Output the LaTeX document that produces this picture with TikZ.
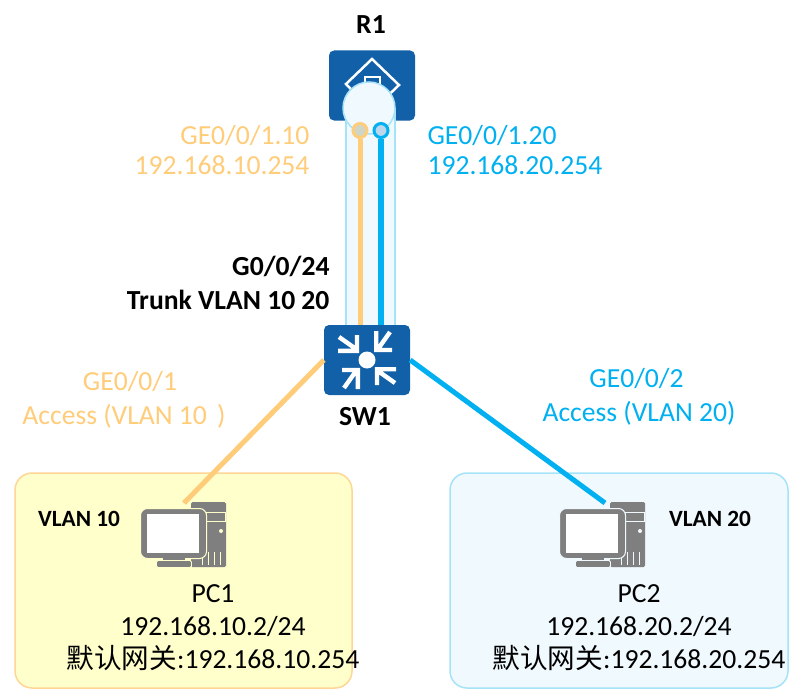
\documentclass[tikz,border=0pt]{standalone}
\usepackage{fontspec}
\setmainfont{Carlito}
\newfontfamily\cjk{Noto Sans CJK SC}
\definecolor{huawei}{HTML}{1160A8}
\definecolor{vorange}{HTML}{FFCC7A}
\definecolor{vblue}{HTML}{00B0F0}
\definecolor{tubeedge}{HTML}{A6E3F8}
\definecolor{tubefill}{HTML}{F0F9FE}
\definecolor{pcgray}{HTML}{7F7F7F}
\definecolor{paleyellow}{HTML}{FFFFCC}
\definecolor{portblue}{HTML}{BCD6EC}
\definecolor{portorange}{HTML}{CFD6C6}
\newcommand{\drawpc}[3]{% x, y, background
  \begin{scope}[shift={(#1,#2)}]
    \fill[pcgray, rounded corners=1.5] (191,502) rectangle (226,567);
    \draw[#3, line width=1] (206,512) rectangle (225,521);
    \fill[#3] (221,531) circle (2);
    \foreach \vx in {202,208,214,220}
      \draw[#3, line width=1] (\vx,552) -- (\vx,565);
    \fill[pcgray, draw=#3, line width=1, rounded corners=7] (140.5,508.5) rectangle (206.5,558.5);
    \fill[white] (147,514) rectangle (199,553);
    \fill[pcgray] (163,558) rectangle (185,562);
    \fill[pcgray, draw=#3, line width=.8, rounded corners=1.5] (156.5,560.5) rectangle (191.5,567.5);
  \end{scope}}
\begin{document}
\begin{tikzpicture}[x=1pt, y=-1pt,
    lbl/.style = {font=\fontsize{27.6}{34}\selectfont, align=center},
    tight/.style = {font=\fontsize{27.6}{30}\selectfont},
    gate/.style = {font=\fontsize{27.6}{33}\selectfont, align=center},
    bold/.style = {font=\fontsize{27.6}{34}\selectfont\bfseries, align=right},
    small/.style = {font=\fontsize{23.3}{25}\selectfont\bfseries},
    device/.style = {fill=huawei, rounded corners=5, minimum width=86, minimum height=70, inner sep=0},
    area/.style = {rounded corners=17, line width=1.5},
    port/.style = {circle, line width=3, minimum size=14, inner sep=0},
    link/.style = {line width=5}]
  \useasboundingbox (0,0) rectangle (803,693);

  \draw[area, draw=vorange!80, fill=paleyellow] (15,473) rectangle (352,688);
  \draw[area, draw=tubeedge, fill=tubefill] (450,473) rectangle (788,688);

  \node[device] (R1) at (372,85.5) {};
  \draw[white, line width=2.5, line join=miter] (346,84) -- (372,59) -- (399,85) -- (372,111) -- cycle;
  \draw[white, line width=2.5] (365,84) -- (365,77) -- (380,77) -- (380,84);
  \draw[tubeedge, fill=tubefill, line width=2] (345.5,108) -- (345.5,326) -- (394.5,326) -- (394.5,108);
  \node[circle, draw=tubeedge, fill=tubefill, line width=1.5, minimum size=52, inner sep=0] (bubble) at (369,108) {};

  \node[port, draw=vorange, fill=portorange] (p10) at (360,130.5) {};
  \node[port, draw=vblue, fill=portblue] (p20) at (381,130.5) {};

  \node[device] (SW1) at (367,360) {};
  \draw[link, vorange] (p10) -- (p10 |- SW1.north);
  \draw[link, vblue, line width=6] (p20) -- (p20 |- SW1.north);
  \node[circle, fill=white, minimum size=17, inner sep=0] (hub) at (SW1) {};
  \foreach \ang in {0,90,180,270}
    \draw[white, line width=4.4, rotate around={\ang:(SW1)}, shift={(SW1)}, line join=miter]
      (-29,-9.2) -- (-10,-9.2) -- (-10,-25) (-11,-11) -- (-28,-23);

  \drawpc{0}{0}{paleyellow}
  \drawpc{419}{0}{tubefill}
  \coordinate (pc1) at (184,503);
  \coordinate (pc2) at (605,503);
  \draw[link, vorange] (SW1.west) -- (pc1);
  \draw[link, vblue] (SW1.east) -- (pc2);

  \node[bold] (r1name) at (371,25) {R1};
  \node[bold] (swname) at (365,417) {SW1};
  \node[bold, anchor=east] (trunk) at (333,283) {G0/0/24\\Trunk VLAN 10 20};
  \node[tight, vorange, align=right, anchor=east] (ge10) at (313,150) {GE0/0/1.10\\192.168.10.254};
  \node[tight, vblue, align=left, anchor=west] (ge20) at (424,150) {GE0/0/1.20\\192.168.20.254};
  \node[lbl, vorange] (ge1) at (124,400) {\hspace*{12pt}GE0/0/1\\Access (VLAN 10\kern4pt\ )};
  \node[lbl, vblue] (ge2) at (639,397) {GE0/0/2\hspace*{5pt}\\Access (VLAN 20)};
  \node[small] (v10) at (79,519) {VLAN 10};
  \node[small] (v20) at (710,519) {VLAN 20};
  \node[gate] (pc1txt) at (213,628) {PC1\\192.168.10.2/24\\{\cjk 默认网关}:192.168.10.254};
  \node[gate] (pc2txt) at (639,628) {PC2\\192.168.20.2/24\\{\cjk 默认网关}:192.168.20.254};
\end{tikzpicture}
\end{document}
